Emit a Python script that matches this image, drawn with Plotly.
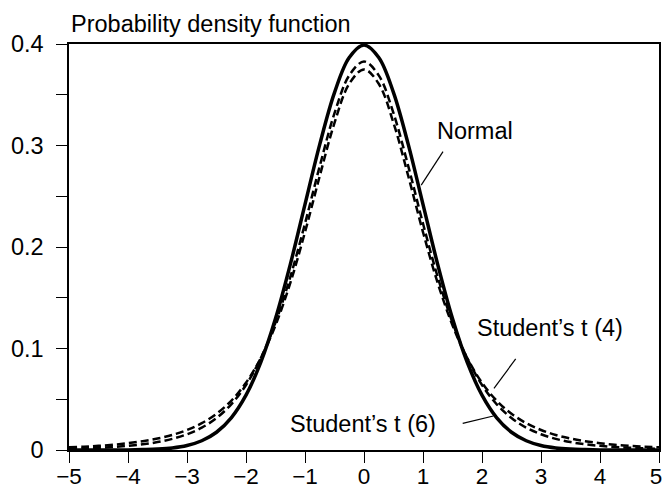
import plotly.graph_objects as go

# x grid (read positions) and density values
x_vals = [-5.0, -4.75, -4.5, -4.25, -4.0, -3.75, -3.5, -3.25, -3.0, -2.75, -2.5, -2.25, -2.0, -1.75,
          -1.5, -1.25, -1.0, -0.75, -0.5, -0.25, 0.0, 0.25, 0.5, 0.75, 1.0, 1.25, 1.5, 1.75, 2.0,
          2.25, 2.5, 2.75, 3.0, 3.25, 3.5, 3.75, 4.0, 4.25, 4.5, 4.75, 5.0]

normal_pdf = [0.0000, 0.0000, 0.0000, 0.0000, 0.0001, 0.0004, 0.0009, 0.0020, 0.0044, 0.0091,
              0.0175, 0.0317, 0.0540, 0.0863, 0.1295, 0.1826, 0.2420, 0.3011, 0.3521, 0.3867,
              0.3989, 0.3867, 0.3521, 0.3011, 0.2420, 0.1826, 0.1295, 0.0863, 0.0540, 0.0317,
              0.0175, 0.0091, 0.0044, 0.0020, 0.0009, 0.0004, 0.0001, 0.0000, 0.0000, 0.0000, 0.0000]

t4_pdf = [0.0026, 0.0033, 0.0041, 0.0052, 0.0067, 0.0087, 0.0113, 0.0148, 0.0197, 0.0264,
          0.0357, 0.0485, 0.0663, 0.0905, 0.1229, 0.1644, 0.2147, 0.2699, 0.3223, 0.3608,
          0.3750, 0.3608, 0.3223, 0.2699, 0.2147, 0.1644, 0.1229, 0.0905, 0.0663, 0.0485,
          0.0357, 0.0264, 0.0197, 0.0148, 0.0113, 0.0087, 0.0067, 0.0052, 0.0041, 0.0033, 0.0026]

t6_pdf = [0.0012, 0.0016, 0.0022, 0.0030, 0.0041, 0.0056, 0.0078, 0.0110, 0.0155, 0.0220,
          0.0315, 0.0450, 0.0640, 0.0904, 0.1256, 0.1703, 0.2231, 0.2797, 0.3318, 0.3691,
          0.3827, 0.3691, 0.3318, 0.2797, 0.2231, 0.1703, 0.1256, 0.0904, 0.0640, 0.0450,
          0.0315, 0.0220, 0.0155, 0.0110, 0.0078, 0.0056, 0.0041, 0.0030, 0.0022, 0.0016, 0.0012]

x_ticks = [-5, -4, -3, -2, -1, 0, 1, 2, 3, 4, 5]
x_tick_labels = ["\u22125", "\u22124", "\u22123", "\u22122", "\u22121", "0", "1", "2", "3", "4",
                 "5\u00a0"]
y_ticks = [0, 0.1, 0.2, 0.3, 0.4]
y_tick_labels = ["0", "0.1", "0.2", "0.3", "0.4"]

FONT = "Liberation Sans, Arial, Helvetica, sans-serif"
FS = 23.5

fig = go.Figure()
fig.add_trace(go.Scatter(x=x_vals, y=t4_pdf, mode="lines", name="Student's t (4)",
                         line=dict(color="black", width=2.5, dash="8px,4px", shape="spline")))
fig.add_trace(go.Scatter(x=x_vals, y=t6_pdf, mode="lines", name="Student's t (6)",
                         line=dict(color="black", width=2.5, dash="8px,4px", shape="spline")))
fig.add_trace(go.Scatter(x=x_vals, y=normal_pdf, mode="lines", name="Normal",
                         line=dict(color="black", width=3.5, shape="spline")))

axis_common = dict(showline=True, linecolor="black", linewidth=1.5, mirror=True,
                   ticks="outside", ticklen=11, tickwidth=1.2, tickcolor="black",
                   showgrid=False, zeroline=False, automargin=False)

fig.update_xaxes(range=[-5, 5], tickvals=x_ticks, ticktext=x_tick_labels, ticklabelstandoff=-6,
                 ticklabeloverflow="allow",
                 tickfont=dict(family=FONT, size=22.5, color="black"), **axis_common)
fig.update_yaxes(range=[0, 0.4], tickvals=y_ticks, ticktext=y_tick_labels, ticklabelstandoff=8,
                 tickfont=dict(family=FONT, size=FS, color="black"),
                 minor=dict(ticks="outside", dtick=0.05, tick0=0, ticklen=11, tickwidth=1.2,
                            tickcolor="black"),
                 **axis_common)

ann_font = dict(family=FONT, size=FS, color="black")
annotations = [
    dict(text="Probability density function", xref="paper", yref="paper", x=0, y=1.049,
         xanchor="left", yanchor="middle", showarrow=False, font=ann_font),
    dict(text="Normal", x=1.88, y=0.3138, xref="x", yref="y", showarrow=False, font=ann_font),
    dict(text="Student’s t (4)", x=3.147, y=0.1202, xref="x", yref="y", showarrow=False, font=ann_font),
    dict(text="Student’s t (6)", x=-0.025, y=0.0256, xref="x", yref="y", showarrow=False, font=ann_font),
]
shapes = [
    dict(type="line", xref="x", yref="y", x0=1.339, y0=0.2939, x1=0.97, y1=0.2610,
         line=dict(color="black", width=1.2)),
    dict(type="line", xref="x", yref="y", x0=2.571, y0=0.0897, x1=2.203, y1=0.0608,
         line=dict(color="black", width=1.2)),
    dict(type="line", xref="x", yref="y", x0=1.673, y0=0.0263, x1=2.192, y1=0.0335,
         line=dict(color="black", width=1.2)),
]

fig.update_layout(width=663, height=489, margin=dict(l=69, r=4, t=44, b=39),
                  paper_bgcolor="white", plot_bgcolor="white", showlegend=False,
                  annotations=annotations, shapes=shapes)

fig.write_html("out.html", config={"displayModeBar": False},
               post_script="document.body.style.margin='0px';document.body.style.overflow='hidden';")
